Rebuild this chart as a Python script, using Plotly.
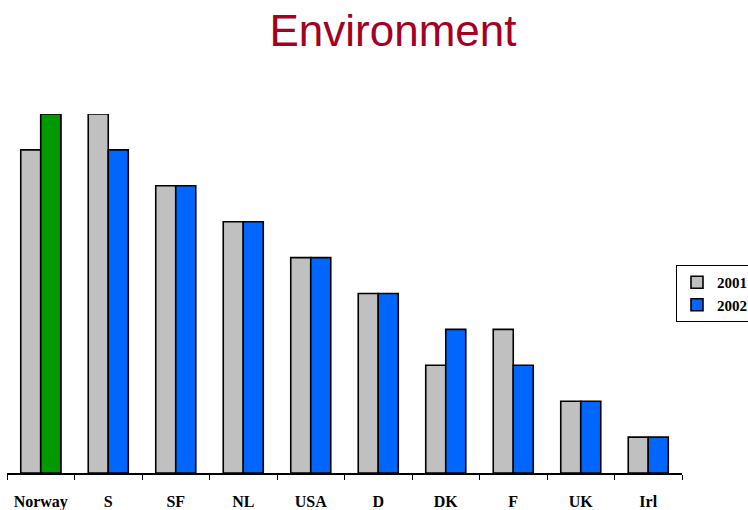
import plotly.graph_objects as go

countries = ["Norway", "S", "SF", "NL", "USA", "D", "DK", "F", "UK", "Irl"]
values_2001 = [9, 10, 8, 7, 6, 5, 3, 4, 2, 1]
values_2002 = [10, 9, 8, 7, 6, 5, 4, 3, 2, 1]
series_names = ["2001", "2002"]
highlight_country = "Norway"

gray = "#C0C0C0"
blue = "#0066FF"
green = "#009900"
hi_idx = countries.index(highlight_country)

fig = go.Figure()
fig.add_trace(go.Bar(
    x=countries, y=values_2001, name=series_names[0],
    offsetgroup="a",
    marker=dict(color=gray, line=dict(color="black", width=1.6)),
    cliponaxis=False,
))
fig.add_trace(go.Bar(
    x=countries, y=values_2002, name=series_names[1],
    offsetgroup="b",
    marker=dict(color=blue, line=dict(color="black", width=1.6)),
    cliponaxis=False,
))
# highlighted 2002 bar drawn over the blue one in the same slot
fig.add_trace(go.Bar(
    x=[countries[hi_idx]], y=[values_2002[hi_idx]], name=series_names[1],
    offsetgroup="b", showlegend=False,
    marker=dict(color=green, line=dict(color="black", width=1.6)),
    cliponaxis=False,
))

fig.update_layout(
    width=748, height=510,
    margin=dict(l=7, r=66, t=114, b=37, autoexpand=False),
    paper_bgcolor="white", plot_bgcolor="white",
    barmode="group", bargap=0.407, bargroupgap=0,
    title=dict(
        text="Environment",
        font=dict(family="Liberation Sans, Arial, sans-serif", size=44, color="#A50021"),
        x=393 / 748, xref="container", xanchor="center",
        y=1 - 31 / 510, yref="container", yanchor="middle",
    ),
    xaxis=dict(
        showline=True, linecolor="black", linewidth=1.6,
        ticks="outside", tickson="boundaries", ticklen=5, tickwidth=1.3, tickcolor="black",
        tickfont=dict(family="Liberation Serif, Times New Roman, serif", size=16, color="black", weight="bold"),
        ticklabelstandoff=13, automargin=False,
        showgrid=False, zeroline=False,
    ),
    yaxis=dict(range=[0, 10], visible=False, showgrid=False, zeroline=False),
    showlegend=True,
    legend=dict(
        xref="container", yref="container",
        x=676 / 748, xanchor="left",
        y=1 - 265 / 510, yanchor="top",
        bordercolor="black", borderwidth=1, bgcolor="white",
        font=dict(family="Liberation Serif, Times New Roman, serif", size=15, color="black", weight="bold"),
        itemwidth=30, tracegroupgap=0,
    ),
)

fig.write_html("out.html")
